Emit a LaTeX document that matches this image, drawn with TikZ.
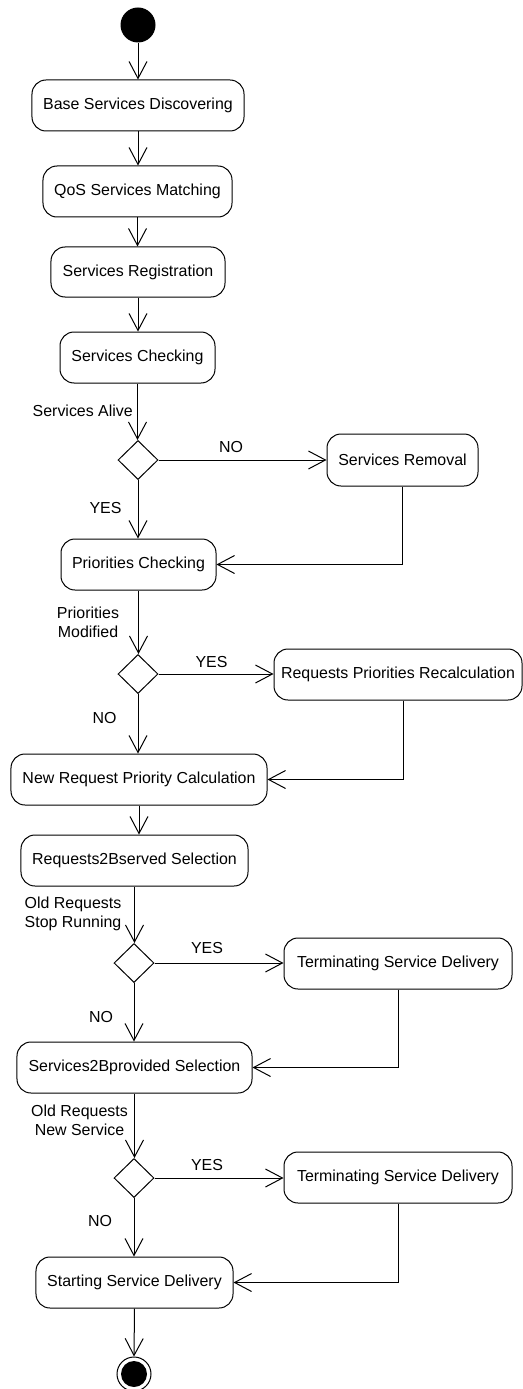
\documentclass[tikz,border=0pt]{standalone}
\usepackage{fontspec}
\setmainfont{Liberation Sans}
\usetikzlibrary{arrows.meta,shapes.geometric}
\begin{document}
\begin{tikzpicture}[x=1bp,y=-1bp,
  every node/.style={font=\fontsize{16}{19}\selectfont, inner sep=0pt},
  act/.style={draw, line width=1bp, rounded corners=14bp, minimum height=51bp},
  dec/.style={draw, line width=1bp, diamond, minimum width=40bp, minimum height=39bp, inner sep=0pt, aspect=1},
  lbl/.style={align=center},
  flow/.style={line width=1bp, -{Straight Barb[length=17bp,width=18bp,line width=1bp]}},
  plain/.style={line width=1bp}
]
\useasboundingbox (0,0) rectangle (523,1389);
% start / end
\node[circle, fill=black, minimum size=35bp] (start) at (138,25) {};
\node[circle, draw, line width=1bp, minimum size=34bp] (fin) at (134,1374) {};
\node[circle, fill=black, minimum size=26bp] (finin) at (134,1374) {};
% activities
\node[act, minimum width=212bp] (bsd) at (138,105.5) {Base Services Discovering};
\node[act, minimum width=189bp] (qos) at (137.5,191.5) {QoS Services Matching};
\node[act, minimum width=174bp, minimum height=50bp] (reg) at (138,272) {Services Registration};
\node[act, minimum width=155bp] (chk) at (137.5,357.5) {Services Checking};
\node[dec] (d1) at (138,460) {};
\node[act, minimum width=151bp, minimum height=52bp] (rem) at (402.5,460) {Services Removal};
\node[act, minimum width=155bp] (pri) at (138.5,564.5) {Priorities Checking};
\node[dec] (d2) at (138,674) {};
\node[act, minimum width=248bp] (rpr) at (398,674.5) {Requests Priorities Recalculation};
\node[act, minimum width=256bp] (nrp) at (139,779.5) {New Request Priority Calculation};
\node[act, minimum width=227bp] (r2b) at (134.5,860.5) {Requests2Bserved Selection};
\node[dec] (d3) at (134,963) {};
\node[act, minimum width=228bp] (tsd1) at (398,963.5) {Terminating Service Delivery};
\node[act, minimum width=235bp] (s2b) at (134.5,1067.5) {Services2Bprovided Selection};
\node[dec] (d4) at (134,1178) {};
\node[act, minimum width=228bp] (tsd2) at (398,1177.5) {Terminating Service Delivery};
\node[act, minimum width=197bp] (ssd) at (134.5,1282.5) {Starting Service Delivery};
% labels
\node[lbl, anchor=east] (la1) at (133,411) {Services Alive};
\node[lbl] (no1) at (231,447) {NO};
\node[lbl] (yes1) at (105.5,508) {YES};
\node[lbl] (la2) at (88,622.5) {Priorities\\Modified};
\node[lbl] (yes2) at (211.5,662) {YES};
\node[lbl] (no2) at (104.5,718) {NO};
\node[lbl] (la3) at (73,913.5) {Old Requests\\Stop Running};
\node[lbl] (yes3) at (207,948) {YES};
\node[lbl] (no3) at (101,1017) {NO};
\node[lbl] (la4) at (79.5,1120.5) {Old Requests\\New Service};
\node[lbl] (yes4) at (207,1165) {YES};
\node[lbl] (no4) at (100,1221) {NO};
% flows
\draw[flow] (start) -- (bsd);
\draw[flow] (bsd.south) -- (bsd.south |- qos.north);
\draw[flow] (qos.south) -- (qos.south |- reg.north);
\draw[flow] (reg.south) -- (reg.south |- chk.north);
\draw[flow] (chk.south) -- (chk.south |- d1.north);
\draw[flow] (d1.east) -- (rem.west);
\draw[flow] (d1.south) -- (d1.south |- pri.north);
\draw[flow] (rem.south) |- (pri.east);
\draw[flow] (pri.south) -- (pri.south |- d2.north);
\draw[flow] (d2.east) -- (d2.east -| rpr.west);
\draw[flow] (d2.south) -- (d2.south |- nrp.north);
\draw[flow] ([xshift=5bp]rpr.south) |- (nrp.east);
\draw[flow] (nrp.south) -- (nrp.south |- r2b.north);
\draw[flow] (r2b.south) -- (r2b.south |- d3.north);
\draw[flow] (d3.east) -- (d3.east -| tsd1.west);
\draw[flow] (d3.south) -- (d3.south |- s2b.north);
\draw[flow] (tsd1.south) |- (s2b.east);
\draw[flow] (s2b.south) -- (s2b.south |- d4.north);
\draw[flow] (d4.east) -- (d4.east -| tsd2.west);
\draw[flow] (d4.south) -- (d4.south |- ssd.north);
\draw[flow] (tsd2.south) |- (ssd.east);
\draw[flow] (ssd.south) -- (fin.north);
\end{tikzpicture}
\end{document}
